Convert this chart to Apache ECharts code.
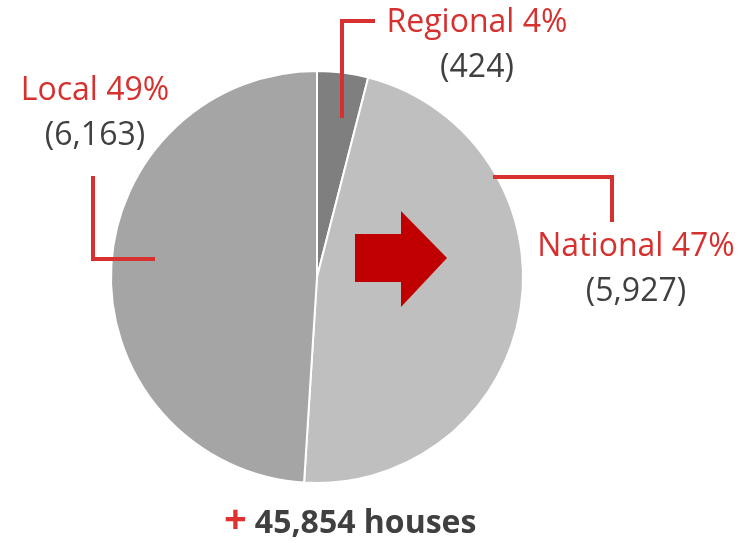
<!DOCTYPE html>
<html>
<head>
<meta charset="utf-8">
<script src="https://cdn.jsdelivr.net/npm/echarts@6/dist/echarts.min.js"></script>
<style>
  html, body { margin: 0; padding: 0; background: #fff; }
  #chart { width: 744px; height: 543px; }
</style>
</head>
<body>
<div id="chart"></div>
<script>
// data
const categories = ['Regional', 'National', 'Local'];
const shares = [4, 47, 49];          // % shown on the labels (slices drawn from these)
const counts = [424, 5927, 6163];    // numbers in brackets
const totalHouses = '45,854';
const sliceColors = ['#7f7f7f', '#bfbfbf', '#a5a5a5'];

const red = '#d6302f';
const cx = 317, cy = 277, r = 206;

// label block centres and elbow leader lines, as offsets from the pie centre
const labelPos = [
    { x: 160, y: -232, line: [[25, -159], [25, -256], [58, -256]] },
    { x: 319, y: -8, line: [[176, -100], [295, -100], [295, -55]] },
    { x: -222, y: -164, line: [[-162, -18], [-224, -18], [-224, -101]] }
];

const chart = echarts.init(document.getElementById('chart'));

chart.setOption({
    animation: false,
    series: [
        {
            type: 'pie',
            center: [cx, cy],
            radius: r,
            startAngle: 90,
            clockwise: true,
            itemStyle: { borderColor: '#fff', borderWidth: 2 },
            data: categories.map((name, i) => ({
                name: name,
                value: shares[i],
                itemStyle: { color: sliceColors[i] }
            })),
            label: {
                show: true,
                position: 'outside',
                overflow: 'none',
                width: 300,
                fontFamily: 'Open Sans',
                formatter: (p) => '{a|' + p.name + ' ' + shares[p.dataIndex] + '%}\n{b|(' +
                    counts[p.dataIndex].toLocaleString('en-US') + ')}',
                rich: {
                    a: { fontFamily: 'Open Sans', fontSize: 32, color: red, lineHeight: 45, align: 'center' },
                    b: { fontFamily: 'Open Sans', fontSize: 32, color: '#404040', lineHeight: 45, align: 'center' }
                }
            },
            labelLine: { show: false },
            labelLayout: (params) => {
                const pos = labelPos[params.dataIndex];
                return {
                    x: cx + pos.x,
                    y: cy + pos.y,
                    align: 'center',
                    verticalAlign: 'middle',
                    width: 300
                };
            }
        }
    ],
    graphic: [
        // elbow leader lines, drawn on top of the slices
        ...labelPos.map((pos) => ({
            type: 'polyline',
            z: 10,
            shape: { points: pos.line.map((pt) => [cx + pt[0], cy + pt[1]]) },
            style: { stroke: red, lineWidth: 4, fill: null }
        })),
        {
            // red arrow on the National slice
            type: 'polygon',
            z: 10,
            shape: {
                points: [[355, 234], [401, 234], [401, 211], [447, 258], [401, 307], [401, 282], [355, 282]]
            },
            style: { fill: '#c00000' }
        },
        {
            type: 'text',
            left: 224,
            top: 502,
            style: {
                text: '{p|+}{t|' + totalHouses + ' houses}',
                rich: {
                    p: { fontFamily: 'Open Sans', fontSize: 40, fontWeight: 'bold', fill: '#e03030', padding: [0, 8, 0, 0] },
                    t: { fontFamily: 'Open Sans', fontSize: 32, fontWeight: 'bold', fill: '#404040', padding: [4, 0, 0, 0] }
                }
            }
        }
    ]
});
</script>
</body>
</html>
